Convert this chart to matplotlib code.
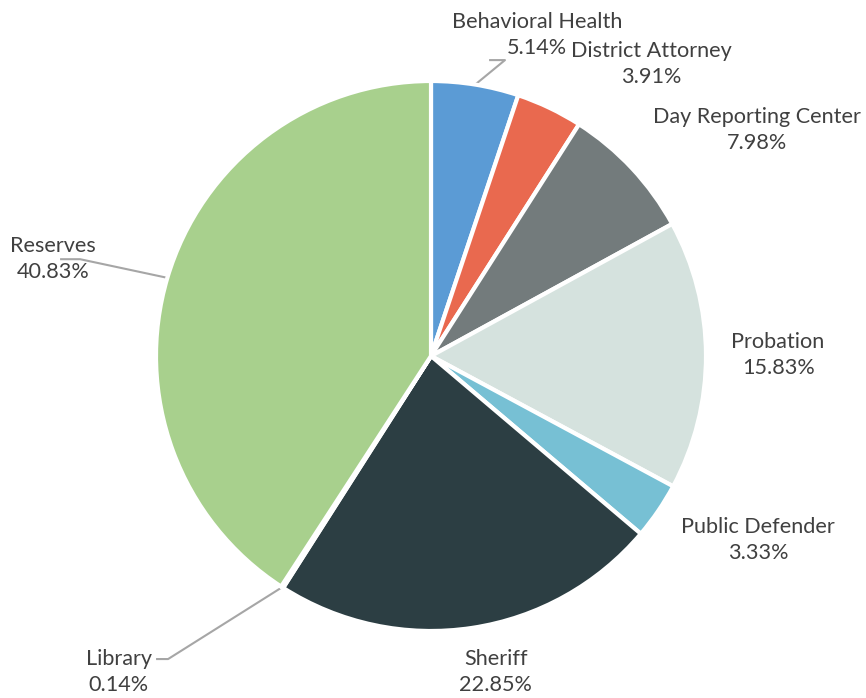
import numpy as np
from matplotlib import pyplot as plt

labels = ["Behavioral Health", "District Attorney", "Day Reporting Center", "Probation",
          "Public Defender", "Sheriff", "Library", "Reserves"]
shares = [5.14, 3.91, 7.98, 15.83, 3.33, 22.85, 0.14, 40.83]
colors = ["#5B9BD5", "#E9694F", "#737B7C", "#D5E2DE", "#77C0D4", "#2C3E43", "#C9C9C9", "#A8D08D"]

# label centres in units of pie radius (centre = 0,0)
label_pos = {
    "Behavioral Health": (0.385, 1.167),
    "District Attorney": (0.800, 1.062),
    "Day Reporting Center": (1.185, 0.822),
    "Probation": (1.262, 0.004),
    "Public Defender": (1.189, -0.669),
    "Sheriff": (0.236, -1.149),
    "Library": (-1.135, -1.149),
    "Reserves": (-1.375, 0.353),
}
# leader line elbows (label side), only for labels sitting away from their slice
leader_elbow = {
    "Behavioral Health": [(0.215, 1.076), (0.269, 1.076)],
    "Reserves": [(-1.345, 0.352), (-1.276, 0.352)],
    "Library": [(-0.996, -1.102), (-0.956, -1.102)],
}


def main():
    plt.rcParams['font.family'] = ['Lato', 'DejaVu Sans']
    fig = plt.figure(figsize=(8.66, 6.98), dpi=100)
    ax = fig.add_axes([0, 0, 1, 1])

    wedges, _ = ax.pie(shares, colors=colors, startangle=90, counterclock=False,
                       radius=1.0, wedgeprops=dict(edgecolor="white", linewidth=3))

    for w, name, val in zip(wedges, labels, shares):
        x, y = label_pos[name]
        ax.text(x, y, f"{name}\n{val:.2f}%", ha="center", va="center", fontsize=15.6,
                color="#404040", linespacing=1.4)
        if name in leader_elbow:
            ang = np.deg2rad((w.theta1 + w.theta2) / 2)
            pts = [(np.cos(ang) * 1.0, np.sin(ang) * 1.0)] + leader_elbow[name][::-1]
            xs, ys = zip(*pts)
            ax.plot(xs, ys, color="#A6A6A6", lw=1.5, zorder=0)

    ax.set_xlim(-431 / 275, (866 - 431) / 275)
    ax.set_ylim(-(698 - 356) / 275, 356 / 275)
    ax.set_aspect("equal")
    ax.axis("off")

    plt.savefig("out.png", dpi=100)


if __name__ == '__main__':
    main()
